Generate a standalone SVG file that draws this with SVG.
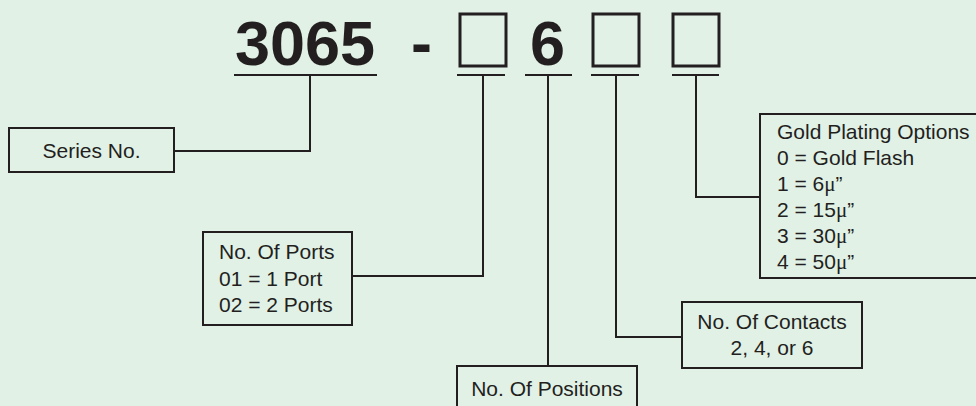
<svg xmlns="http://www.w3.org/2000/svg" width="976" height="406" viewBox="0 0 976 406">
<style>
.bg{fill:#e1f1e6}
.box{fill:#e1f1e6;stroke:#231f20;stroke-width:2}
.ln{fill:none;stroke:#231f20;stroke-width:2}
.sq{fill:none;stroke:#231f20;stroke-width:3}
.big{font-family:"Liberation Sans",Arial,sans-serif;font-weight:bold;font-size:63px;fill:#231f20}
.t{font-family:"Liberation Sans",Arial,sans-serif;font-size:21px;fill:#231f20}
.mu{font-family:"Liberation Serif","Times New Roman",serif}
</style>
<rect class="bg" x="0" y="0" width="976" height="406"/>
<g id="title">
<text class="big" x="235" y="65">3065</text>
<text class="big" x="411" y="65">-</text>
<rect class="sq" x="460" y="14" width="46" height="52"/>
<text class="big" x="530" y="65">6</text>
<rect class="sq" x="593" y="14" width="46" height="52"/>
<rect class="sq" x="673" y="14" width="46" height="52"/>
</g>
<g id="connectors">
<line class="ln" x1="234" y1="75" x2="377" y2="75"/>
<line class="ln" x1="457" y1="75" x2="505" y2="75"/>
<line class="ln" x1="525" y1="75" x2="572" y2="75"/>
<line class="ln" x1="591" y1="75" x2="639" y2="75"/>
<line class="ln" x1="672" y1="75" x2="719" y2="75"/>
<polyline class="ln" points="310,75 310,151 174,151"/>
<polyline class="ln" points="483,75 483,276 352,276"/>
<polyline class="ln" points="548,75 548,366"/>
<polyline class="ln" points="616,75 616,337 682,337"/>
<polyline class="ln" points="696,75 696,197 760,197"/>
</g>
<g id="series">
<rect class="box" x="9" y="128" width="165" height="44"/>
<text class="t" x="91.5" y="158" text-anchor="middle">Series No.</text>
</g>
<g id="ports">
<rect class="box" x="203" y="232" width="149" height="93"/>
<text class="t" x="219" y="259">No. Of Ports</text>
<text class="t" x="219" y="286">01 = 1 Port</text>
<text class="t" x="219" y="312">02 = 2 Ports</text>
</g>
<g id="positions">
<rect class="box" x="457" y="366" width="180" height="50"/>
<text class="t" x="547" y="396" text-anchor="middle">No. Of Positions</text>
</g>
<g id="contacts">
<rect class="box" x="682" y="302" width="180" height="66"/>
<text class="t" x="772" y="329" text-anchor="middle">No. Of Contacts</text>
<text class="t" x="772" y="355" text-anchor="middle">2, 4, or 6</text>
</g>
<g id="plating">
<rect class="box" x="760" y="114" width="230" height="164"/>
<text class="t" x="777" y="139">Gold Plating Options</text>
<text class="t" x="777" y="165">0 = Gold Flash</text>
<text class="t" x="777" y="191">1 = 6<tspan class="mu">μ</tspan>”</text>
<text class="t" x="777" y="217">2 = 15<tspan class="mu">μ</tspan>”</text>
<text class="t" x="777" y="243">3 = 30<tspan class="mu">μ</tspan>”</text>
<text class="t" x="777" y="269">4 = 50<tspan class="mu">μ</tspan>”</text>
</g>
</svg>
